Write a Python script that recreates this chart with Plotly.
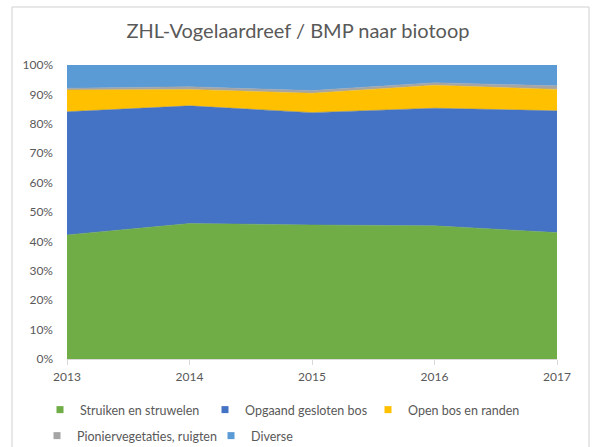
import plotly.graph_objects as go

years = [2013, 2014, 2015, 2016, 2017]
series_names = ["Struiken en struwelen", "Opgaand gesloten bos", "Open bos en randen",
                "Pioniervegetaties, ruigten", "Diverse"]
struiken = [42.2, 46.1, 45.6, 45.3, 43.0]
opgaand = [41.9, 40.0, 38.2, 40.0, 41.4]
open_bos = [7.4, 5.6, 6.6, 7.8, 7.3]
pionier = [0.6, 0.9, 0.9, 0.9, 1.2]
diverse = [7.9, 7.4, 8.7, 6.0, 7.1]
series_values = [struiken, opgaand, open_bos, pionier, diverse]
colors = ["#70AD47", "#4472C4", "#FFC000", "#A5A5A5", "#5B9BD5"]

FONT = "Lato, Carlito, Calibri, sans-serif"
W, H = 596, 447
legend_ids = ["legend", "legend2", "legend3", "legend4", "legend5"]
# legend placement (px from the top-left of the chart)
legend_x_px = [40, 205, 368, 37, 211]
legend_y_px = [410, 410, 410, 436, 436]

fig = go.Figure()
for name, vals, col in zip(series_names, series_values, colors):
    fig.add_trace(go.Scatter(
        x=years, y=vals, name=name, mode="lines", stackgroup="one", groupnorm="percent",
        line=dict(width=0.5, color=col), fillcolor=col, showlegend=False,
    ))
# legend keys (small squares, like the original)
for name, col, lg in zip(series_names, colors, legend_ids):
    fig.add_trace(go.Scatter(
        x=[None], y=[None], name=name, mode="markers", legend=lg,
        marker=dict(symbol="square", size=7, color=col, line=dict(width=0)),
        hoverinfo="skip",
    ))

legfont = dict(family=FONT, size=12.5, color="#595959")
legends = {}
for lg, lx, ly in zip(legend_ids, legend_x_px, legend_y_px):
    legends[lg] = dict(orientation="h", xref="container", yref="container",
                       x=lx / W, xanchor="left", y=1 - ly / H, yanchor="middle",
                       font=legfont, itemwidth=30, bgcolor="rgba(0,0,0,0)")

fig.update_layout(
    width=W, height=H,
    margin=dict(l=67, r=39, t=65, b=88, autoexpand=False),
    paper_bgcolor="white", plot_bgcolor="white",
    font=dict(family=FONT, size=12, color="#595959"),
    title=dict(text="ZHL-Vogelaardreef / BMP naar biotoop", x=0.5, xanchor="center",
               y=1 - 31 / H, yanchor="middle",
               font=dict(family=FONT, size=20, color="#595959")),
    showlegend=True,
    **legends,
    xaxis=dict(range=[2013, 2017], tickmode="array", tickvals=years,
               ticktext=[str(y) for y in years], ticks="outside", ticklen=5,
               tickcolor="#D9D9D9", showline=True, linecolor="#D9D9D9",
               showgrid=False, zeroline=False, ticklabelstandoff=2,
               tickfont=dict(family=FONT, size=12, color="#595959")),
    yaxis=dict(range=[0, 100], tickmode="array", tickvals=list(range(0, 101, 10)),
               ticktext=[f"{v}%" for v in range(0, 101, 10)],
               showgrid=True, gridcolor="#D9D9D9", zeroline=False, showline=False,
               ticklabelstandoff=13,
               tickfont=dict(family=FONT, size=12, color="#595959")),
    shapes=[dict(type="rect", xref="paper", yref="paper",
                 x0=-55 / 490, x1=(589 - 67) / 490, y0=-(447 - 359 + 5) / 294,
                 y1=(359 - 7) / 294, line=dict(color="#D0D0D0", width=1),
                 fillcolor="rgba(0,0,0,0)", layer="above")],
)

fig.write_html("out.html", config={"displayModeBar": False},
               post_script="document.body.style.margin='0';")
